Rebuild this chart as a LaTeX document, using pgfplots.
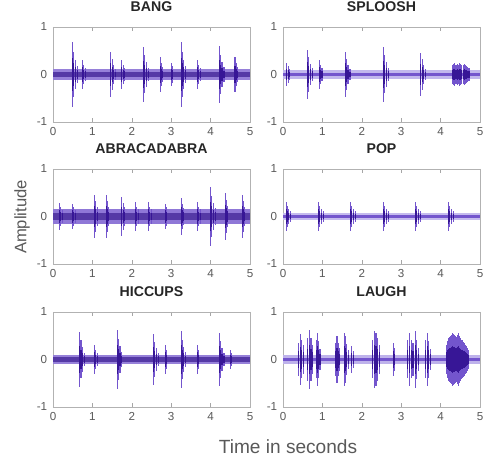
\documentclass[border=0pt]{standalone}
\usepackage{fontspec}
\setmainfont{Liberation Sans}
\usepackage{pgfplots}
\usepackage{pgfplotstable}
\pgfplotsset{compat=1.18}

\definecolor{wavedark}{RGB}{55,22,150}
\definecolor{wavemid}{RGB}{115,85,205}
\definecolor{wavelight}{RGB}{178,165,232}

\pgfplotstableread{
t a
0.50 0.68
0.53 0.48
0.57 0.31
0.62 0.17
0.75 0.30
0.78 0.21
0.82 0.14
1.47 0.47
1.50 0.33
1.54 0.21
1.59 0.12
1.75 0.30
1.78 0.21
1.82 0.14
2.30 0.57
2.33 0.40
2.37 0.26
2.42 0.14
2.72 0.36
2.75 0.25
2.79 0.16
3.00 0.25
3.03 0.18
3.25 0.68
3.28 0.48
3.32 0.31
3.37 0.17
3.67 0.30
3.70 0.21
3.74 0.14
4.22 0.60
4.25 0.42
4.29 0.27
4.34 0.15
4.62 0.36
4.65 0.25
4.69 0.16
}\dataTL

\pgfplotstableread{
t a
0.10 0.25
0.13 0.18
0.17 0.11
0.62 0.52
0.65 0.36
0.69 0.23
0.74 0.13
0.92 0.30
0.95 0.21
0.99 0.14
1.58 0.47
1.61 0.33
1.65 0.21
1.70 0.12
2.55 0.57
2.58 0.40
2.62 0.26
2.67 0.14
3.50 0.45
3.53 0.32
3.57 0.20
3.62 0.12
4.30 0.20
4.33 0.22
4.36 0.24
4.39 0.21
4.42 0.22
4.45 0.20
4.48 0.24
4.51 0.22
4.54 0.21
4.57 0.19
4.60 0.23
4.63 0.20
4.66 0.18
4.69 0.16
4.72 0.14
}\dataTR

\pgfplotstableread{
t a
0.17 0.28
0.20 0.20
0.24 0.14
0.50 0.27
0.53 0.19
0.57 0.14
1.05 0.45
1.08 0.32
1.12 0.20
1.35 0.45
1.38 0.32
1.42 0.20
1.75 0.42
1.78 0.29
1.82 0.19
2.10 0.30
2.13 0.21
2.17 0.15
2.42 0.30
2.45 0.21
2.49 0.15
2.85 0.27
2.88 0.19
3.25 0.38
3.28 0.27
3.32 0.17
3.67 0.30
3.70 0.21
3.74 0.15
4.00 0.62
4.03 0.43
4.07 0.28
4.12 0.17
4.37 0.50
4.40 0.35
4.44 0.22
4.80 0.45
4.83 0.32
4.87 0.20
}\dataML

\pgfplotstableread{
t a
0.08 0.30
0.11 0.22
0.15 0.15
0.20 0.12
0.90 0.30
0.93 0.22
0.97 0.15
1.02 0.12
1.72 0.30
1.75 0.22
1.79 0.15
1.84 0.12
2.55 0.30
2.58 0.22
2.62 0.15
2.67 0.12
3.37 0.30
3.40 0.22
3.44 0.15
3.49 0.12
4.20 0.30
4.23 0.22
4.27 0.15
4.32 0.12
}\dataMR

\pgfplotstableread{
t a
0.68 0.57
0.71 0.40
0.75 0.26
0.80 0.14
1.05 0.30
1.08 0.21
1.12 0.14
1.63 0.63
1.66 0.44
1.70 0.28
1.75 0.15
2.55 0.53
2.58 0.37
2.62 0.24
2.67 0.13
2.85 0.30
2.88 0.21
3.25 0.60
3.28 0.42
3.32 0.27
3.37 0.15
3.67 0.30
3.70 0.21
4.22 0.55
4.25 0.38
4.29 0.25
4.34 0.14
4.50 0.20
4.53 0.14
}\dataBL

\pgfplotstableread{
t a
0.40 0.35
0.45 0.53
0.48 0.40
0.52 0.30
0.63 0.45
0.68 0.63
0.71 0.46
0.75 0.30
0.84 0.40
0.87 0.55
0.90 0.38
0.94 0.22
1.33 0.35
1.37 0.50
1.40 0.35
1.44 0.25
1.55 0.55
1.58 0.50
1.62 0.33
1.67 0.20
1.75 0.28
1.78 0.18
2.27 0.40
2.32 0.60
2.36 0.55
2.40 0.45
2.45 0.30
2.80 0.35
2.83 0.24
3.15 0.40
3.20 0.55
3.25 0.40
3.30 0.35
3.37 0.60
3.40 0.42
3.45 0.25
3.62 0.40
3.67 0.55
3.70 0.38
3.75 0.22
4.15 0.30
4.18 0.38
4.20 0.45
4.23 0.47
4.25 0.50
4.28 0.52
4.30 0.55
4.33 0.53
4.35 0.52
4.38 0.50
4.40 0.48
4.43 0.51
4.45 0.55
4.48 0.50
4.50 0.45
4.53 0.42
4.55 0.40
4.58 0.37
4.60 0.35
4.63 0.31
4.65 0.28
4.68 0.24
4.70 0.20
}\dataBR

\pgfplotsset{
  wavax/.style={
    width=118.2bp, height=57bp, scale only axis,
    anchor=south west,
    xmin=0, xmax=5, ymin=-1, ymax=1,
    xtick={0,1,2,3,4,5}, ytick={-1,0,1},
    axis line style={black!30},
    tick style={black!35},
    major tick length=2.5bp,
    tick align=inside,
    /pgf/number format/assume math mode=true,
    ticklabel style={font=\fontsize{7}{8}\selectfont, text=black!65},
    title style={font=\bfseries\fontsize{8.5}{10}\selectfont, text=black!85},
  }
}

% #1 table, #2 outer band, #3 inner band, #4 outer band colour, #5 inner band colour
\newcommand{\drawwave}[5]{%
  \addplot[fill=#4, draw=none] coordinates {(0,#2) (5,#2) (5,-#2) (0,-#2)};
  \addplot[fill=#5, draw=none] coordinates {(0,#3) (5,#3) (5,-#3) (0,-#3)};
  \addplot[ycomb, no marks, wavemid, line width=0.65bp] table[x=t, y=a] {#1};
  \addplot[ycomb, no marks, wavemid, line width=0.65bp] table[x=t, y expr=-\thisrow{a}] {#1};
  \addplot[ycomb, no marks, wavedark, line width=0.65bp] table[x=t, y expr=0.5*\thisrow{a}] {#1};
  \addplot[ycomb, no marks, wavedark, line width=0.65bp] table[x=t, y expr=-0.5*\thisrow{a}] {#1};
}

\begin{document}
\begin{tikzpicture}
\begin{axis}[wavax, at={(31.8bp,201bp)}, title={BANG}]
  \drawwave{\dataTL}{0.12}{0.055}{wavemid!75}{wavedark!85}
\end{axis}
\begin{axis}[wavax, at={(169.8bp,201bp)}, title={SPLOOSH}]
  \drawwave{\dataTR}{0.09}{0.035}{wavelight!80}{wavemid}
\end{axis}
\begin{axis}[wavax, at={(31.8bp,115.8bp)}, title={ABRACADABRA}]
  \drawwave{\dataML}{0.16}{0.075}{wavemid!80}{wavedark!85}
\end{axis}
\begin{axis}[wavax, at={(169.8bp,115.8bp)}, title={POP}]
  \drawwave{\dataMR}{0.08}{0.03}{wavelight!75}{wavemid}
\end{axis}
\begin{axis}[wavax, at={(31.8bp,30bp)}, title={HICCUPS}]
  \drawwave{\dataBL}{0.10}{0.045}{wavemid!75}{wavedark!85}
\end{axis}
\begin{axis}[wavax, at={(169.8bp,30bp)}, title={LAUGH}]
  \drawwave{\dataBR}{0.09}{0.04}{wavelight!85}{wavemid}
\end{axis}
\node[font=\fontsize{11.5}{13}\selectfont, text=black!65] at (172.8bp,6.2bp) {Time in seconds};
\node[font=\fontsize{10}{12}\selectfont, text=black!65, rotate=90] at (13.2bp,144bp) {Amplitude};
\pgfresetboundingbox
\useasboundingbox (0,0) rectangle (291bp,274.2bp);
\end{tikzpicture}
\end{document}
